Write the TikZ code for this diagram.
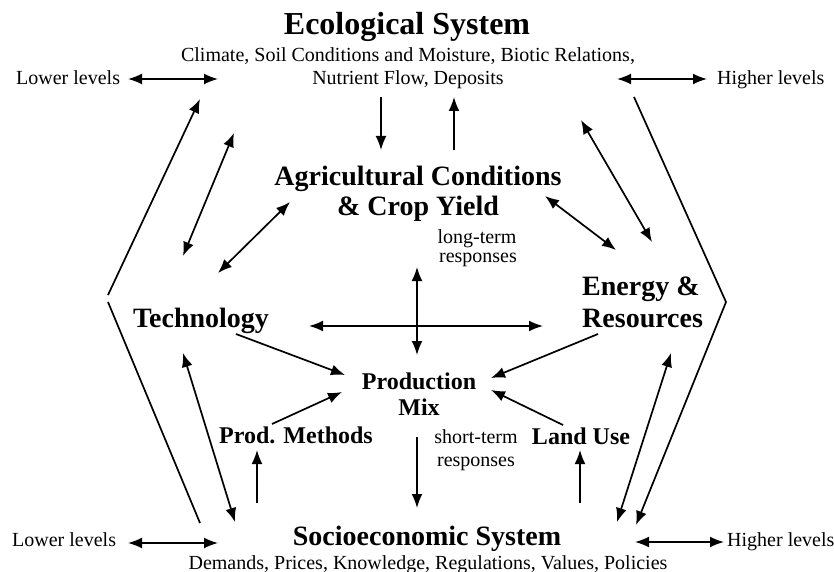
\documentclass[tikz,border=0pt]{standalone}
\usepackage{fontspec}
\setmainfont{Liberation Serif}
\usetikzlibrary{arrows.meta}
\tikzset{
    arr/.style={line width=1.7pt,-{Latex[length=14pt,width=11pt]}},
    darr/.style={line width=1.7pt,{Latex[length=14pt,width=11pt]}-{Latex[length=14pt,width=11pt]}},
    titlebox/.style={font=\fontsize{32}{36}\selectfont\bfseries,anchor=base,inner sep=0pt},
    headbox/.style={font=\fontsize{28}{32}\selectfont\bfseries,anchor=base,inner sep=0pt},
    subbox/.style={font=\fontsize{24}{28}\selectfont\bfseries,anchor=base,inner sep=0pt},
    lbl/.style={font=\fontsize{20}{24}\selectfont,anchor=base,inner sep=0pt}
}

\begin{document}
\begin{tikzpicture}[x=1pt,y=-1pt]
    \useasboundingbox (0,0) rectangle (834,572);
    \node[titlebox] (eco) at (407,35) {Ecological System};
    \node[lbl] (ecoa) at (408,62) {Climate, Soil Conditions and Moisture, Biotic Relations,};
    \node[lbl] (ecob) at (408,85) {Nutrient Flow, Deposits};
    \node[lbl,anchor=base west] (lowtop) at (16,85) {Lower levels};
    \node[lbl,anchor=base west] (hightop) at (717,85) {Higher levels};
    \node[headbox] (agria) at (418,185) {Agricultural Conditions};
    \node[headbox] (agrib) at (418,215) {\& Crop Yield};
    \node[lbl] (longa) at (477,243) {long-term};
    \node[lbl] (longb) at (478,262) {responses};
    \node[headbox] (tech) at (201,327) {Technology};
    \node[headbox,anchor=base west] (enera) at (582,295) {Energy \&};
    \node[headbox,anchor=base west] (enerb) at (582,327) {Resources};
    \node[subbox] (mixa) at (419,389) {Production};
    \node[subbox] (mixb) at (419,415) {Mix};
    \node[subbox] (meth) at (296,443) {Prod. Methods};
    \node[subbox] (land) at (581,444) {Land Use};
    \node[lbl] (shorta) at (476,443) {short-term};
    \node[lbl] (shortb) at (476,466) {responses};
    \node[headbox] (socio) at (427,545) {Socioeconomic System};
    \node[lbl] (sociosub) at (428,569) {Demands, Prices, Knowledge, Regulations, Values, Policies};
    \node[lbl,anchor=base west] (lowbot) at (12,546) {Lower levels};
    \node[lbl,anchor=base west] (highbot) at (727,546) {Higher levels};

    \coordinate (lt1) at (128,79);  \coordinate (lt2) at (218,79);
    \coordinate (ht1) at (617,79);  \coordinate (ht2) at (707,79);
    \coordinate (lb1) at (128,543); \coordinate (lb2) at (218,543);
    \coordinate (hb1) at (635,542); \coordinate (hb2) at (724,542);
    \coordinate (ecodn) at (381,97);  \coordinate (agriup) at (381,150);
    \coordinate (agridn) at (454,150); \coordinate (ecoup) at (454,97);
    \coordinate (ol1) at (108,295); \coordinate (ol2) at (200,99);
    \coordinate (ol3) at (108,302); \coordinate (ol4) at (200,523);
    \coordinate (or1) at (634,97);  \coordinate (or2) at (726,302); \coordinate (or3) at (636,525);
    \coordinate (te1) at (183,256); \coordinate (te2) at (234,133);
    \coordinate (ta1) at (218,273); \coordinate (ta2) at (290,202);
    \coordinate (ts1) at (183,353); \coordinate (ts2) at (235,522);
    \coordinate (tm1) at (236,334); \coordinate (tm2) at (345,375);
    \coordinate (pm1) at (272,424); \coordinate (pm2) at (342,392);
    \coordinate (sp1) at (257,503); \coordinate (sp2) at (257,450);
    \coordinate (hx1) at (309,326); \coordinate (hx2) at (543,326);
    \coordinate (vx1) at (417,267); \coordinate (vx2) at (417,355);
    \coordinate (ms1) at (417,437); \coordinate (ms2) at (417,508);
    \coordinate (em1) at (598,334); \coordinate (em2) at (491,378);
    \coordinate (lm1) at (563,425); \coordinate (lm2) at (491,390);
    \coordinate (sl1) at (580,503); \coordinate (sl2) at (580,450);
    \coordinate (ae1) at (545,196); \coordinate (ae2) at (616,250);
    \coordinate (ee1) at (581,120); \coordinate (ee2) at (652,242);
    \coordinate (es1) at (671,353); \coordinate (es2) at (617,522);

    \draw[darr] (lt1) -- (lt2);
    \draw[darr] (ht1) -- (ht2);
    \draw[darr] (lb1) -- (lb2);
    \draw[darr] (hb1) -- (hb2);
    \draw[arr] (ecodn) -- (agriup);
    \draw[arr] (agridn) -- (ecoup);
    \draw[arr] (ol1) -- (ol2);
    \draw[line width=1.7pt] (ol3) -- (ol4);
    \draw[arr] (or1) -- (or2) -- (or3);
    \draw[darr] (te1) -- (te2);
    \draw[darr] (ta1) -- (ta2);
    \draw[darr] (ts1) -- (ts2);
    \draw[arr] (tm1) -- (tm2);
    \draw[arr] (pm1) -- (pm2);
    \draw[arr] (sp1) -- (sp2);
    \draw[darr] (hx1) -- (hx2);
    \draw[darr] (vx1) -- (vx2);
    \draw[arr] (ms1) -- (ms2);
    \draw[arr] (em1) -- (em2);
    \draw[arr] (lm1) -- (lm2);
    \draw[arr] (sl1) -- (sl2);
    \draw[darr] (ae1) -- (ae2);
    \draw[darr] (ee1) -- (ee2);
    \draw[darr] (es1) -- (es2);
\end{tikzpicture}
\end{document}
